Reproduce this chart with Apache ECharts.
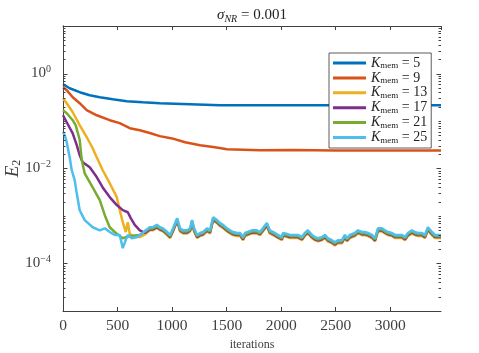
<!DOCTYPE html>
<html>
<head>
<meta charset="utf-8">
<script src="https://cdn.jsdelivr.net/npm/echarts@6/dist/echarts.min.js"></script>
<style>
  html, body { margin: 0; padding: 0; background: #fff; }
  #main { width: 479px; height: 353px; }
</style>
</head>
<body>
<div id="main"></div>
<script>
// memory sizes and MATLAB default line colours
var kMem = [5, 9, 13, 17, 21, 25];
var colors = ['#0072bd', '#d95319', '#edb120', '#7e2f8e', '#77ac30', '#4dbeee'];
var xTicks = [0, 500, 1000, 1500, 2000, 2500, 3000];

// [iteration, E2]
var k5 = [[0,0.593],[16,0.62],[61,0.49],[153,0.404],[245,0.349],[337,0.317],[456,0.288],[584,0.261],
  [731,0.249],[887,0.237],[1163,0.226],[1440,0.215],[1800,0.214],[2200,0.215],[2600,0.214],[3000,0.215],[3465,0.214]];
var k9 = [[0,0.515],[34,0.446],[89,0.317],[153,0.237],[217,0.169],[309,0.132],[428,0.104],[520,0.090],
  [612,0.0705],[704,0.064],[795,0.056],[887,0.048],[1000,0.043],[1119,0.0358],[1257,0.031],[1392,0.028],
  [1504,0.0255],[1805,0.0243],[2100,0.0245],[2500,0.024],[3000,0.024],[3465,0.0238]];
// early parts of the fast series, before they reach the noise floor
var k13 = [[0,0.30],[34,0.237],[89,0.153],[153,0.082],[217,0.046],[272,0.0267],[309,0.0173],[364,0.0092],
  [428,0.0049],[493,0.0025],[520,0.00133],[548,0.00074],[575,0.00046],[594,0.00074],[612,0.00042],
  [658,0.00036],[704,0.00036],[759,0.00042]];
var k17 = [[0,0.132],[34,0.094],[89,0.055],[126,0.031],[153,0.019],[181,0.0136],[245,0.0106],[309,0.0066],
  [364,0.0040],[428,0.0025],[493,0.0017],[548,0.00133],[594,0.0012],[621,0.0009],[658,0.00065],
  [704,0.0005],[750,0.00044]];
var k21 = [[0,0.168],[34,0.146],[89,0.104],[117,0.081],[153,0.040],[172,0.015],[199,0.0079],[272,0.0040],
  [337,0.00215],[383,0.00104],[428,0.00058],[474,0.00046],[520,0.00038],[548,0.00034],[612,0.00038],
  [704,0.0004]];
var k25 = [[0,0.058],[16,0.050],[34,0.036],[61,0.0173],[80,0.0092],[107,0.0057],[126,0.0030],[153,0.00132],
  [199,0.00082],[272,0.00058],[337,0.0005],[383,0.00055],[428,0.00046],[474,0.0004],[520,0.0004],
  [548,0.00021],[575,0.00031],[594,0.0004],[630,0.00034],[676,0.00036],[722,0.00042],[759,0.0005]];
// common noise floor (top curve, K=25) from ~800 iterations on
var tail = [[795,5.8e-4],[823,5.8e-4],[860,6.5e-4],[890,5.8e-4],[917,5.5e-4],[954,4.6e-4],[982,4.0e-4],
  [1009,5.5e-4],[1046,9.0e-4],[1073,5.5e-4],[1101,5.0e-4],[1138,5.0e-4],[1165,5.5e-4],[1183,8.2e-4],
  [1202,5.5e-4],[1229,4.0e-4],[1257,4.4e-4],[1284,4.6e-4],[1320,5.5e-4],[1348,5.0e-4],[1376,9.4e-4],
  [1412,8.2e-4],[1440,7.1e-4],[1467,6.5e-4],[1504,5.5e-4],[1531,5.0e-4],[1559,4.6e-4],[1596,4.4e-4],
  [1623,4.4e-4],[1651,3.6e-4],[1669,4.4e-4],[1731,5.0e-4],[1777,5.0e-4],[1805,4.6e-4],[1832,5.5e-4],
  [1869,7.1e-4],[1896,5.0e-4],[1942,4.4e-4],[1970,4.0e-4],[2007,3.6e-4],[2016,4.4e-4],[2053,4.2e-4],
  [2080,4.0e-4],[2126,4.0e-4],[2153,4.0e-4],[2190,3.6e-4],[2217,4.4e-4],[2245,5.0e-4],[2281,4.0e-4],
  [2309,3.6e-4],[2337,3.4e-4],[2373,3.6e-4],[2401,4.0e-4],[2428,3.4e-4],[2465,3.1e-4],[2492,2.8e-4],
  [2520,3.1e-4],[2557,3.1e-4],[2584,4.0e-4],[2603,3.4e-4],[2630,4.0e-4],[2676,4.4e-4],[2704,5.0e-4],
  [2740,4.6e-4],[2768,4.6e-4],[2795,4.4e-4],[2832,4.0e-4],[2860,3.4e-4],[2887,5.5e-4],[2924,5.5e-4],
  [2951,5.0e-4],[2979,4.6e-4],[3015,4.4e-4],[3043,4.0e-4],[3070,4.0e-4],[3107,4.0e-4],[3135,3.6e-4],
  [3162,4.4e-4],[3199,5.0e-4],[3226,4.6e-4],[3254,4.4e-4],[3290,4.4e-4],[3318,4.0e-4],[3345,5.8e-4],
  [3382,4.6e-4],[3410,4.0e-4],[3437,4.0e-4],[3465,4.0e-4]];
// how far below the top curve each one sits on the floor
var tailRatio = [1, 1, 0.86, 0.9, 0.94, 1];

var early = [k5, k9, k13, k17, k21, k25];

var font = 'Liberation Serif';
var axisColor = '#404040';
var chart = echarts.init(document.getElementById('main'));

var series = kMem.map(function (k, i) {
  var data = early[i];
  if (i >= 2) {
    data = data.concat(tail.map(function (p) { return [p[0], p[1] * tailRatio[i]]; }));
  }
  return {
    name: 'K = ' + k,
    type: 'line',
    data: data,
    showSymbol: false,
    lineStyle: { width: 2.5, color: colors[i] },
    itemStyle: { color: colors[i] },
    animation: false
  };
});

var supRich = {
  b: { fontFamily: font, fontSize: 15, color: axisColor },
  sup: { fontFamily: font, fontSize: 10, color: axisColor, padding: [0, 0, 9, 0] }
};

chart.setOption({
  backgroundColor: '#fff',
  animation: false,
  title: {
    text: '{i|σ}{s|NR}{n| = 0.001}',
    left: 247, top: 1, textAlign: 'center',
    textStyle: {
      rich: {
        i: { fontFamily: font, fontStyle: 'italic', fontWeight: 'normal', fontSize: 15, color: '#222' },
        s: { fontFamily: font, fontStyle: 'italic', fontWeight: 'normal', fontSize: 10, color: '#222', padding: [8, 0, 0, 0] },
        n: { fontFamily: font, fontWeight: 'normal', fontSize: 15, color: '#222' }
      }
    }
  },
  legend: {
    orient: 'vertical', left: 329, top: 53,
    padding: [3, 4, 3, 4], itemGap: 0.4, itemWidth: 33, itemHeight: 3,
    icon: 'rect',
    borderColor: '#333', borderWidth: 0.8, backgroundColor: '#fff',
    formatter: function (name) { return '{k|K}{s|mem}{t|' + name.slice(1) + '}'; },
    textStyle: {
      rich: {
        k: { fontFamily: font, fontStyle: 'italic', fontSize: 14, color: '#222', lineHeight: 14 },
        s: { fontFamily: font, fontSize: 9, color: '#222', padding: [6, 0, 0, 0] },
        t: { fontFamily: font, fontSize: 14, color: '#222', lineHeight: 14 }
      }
    },
    data: series.map(function (s) { return s.name; })
  },
  grid: { left: 63, right: 38, top: 26, bottom: 42, outerBoundsMode: 'none', containLabel: false },
  xAxis: [{
    type: 'value', min: 0, max: 3465, interval: 500,
    name: 'iterations', nameLocation: 'middle', nameGap: 27,
    nameTextStyle: { fontFamily: font, fontSize: 12, color: axisColor },
    axisLine: { lineStyle: { color: axisColor, width: 1 } },
    axisTick: { inside: true, length: 4, lineStyle: { color: axisColor } },
    axisLabel: {
      fontFamily: font, fontSize: 15.5, color: axisColor, margin: 7, showMaxLabel: false,
      formatter: function (v) { return xTicks.indexOf(v) >= 0 ? String(v) : ''; }
    },
    splitLine: { show: false }
  }, {
    type: 'value', position: 'top', min: 0, max: 3465, interval: 500,
    axisLine: { lineStyle: { color: axisColor, width: 1 } },
    axisTick: { inside: true, length: 4, lineStyle: { color: axisColor } },
    axisLabel: { show: false }, splitLine: { show: false }
  }],
  yAxis: [{
    type: 'log', logBase: 10, min: 1e-5, max: 10, interval: 1,
    name: '{e|E}{s|2}', nameLocation: 'middle', nameGap: 40, nameRotate: 90,
    nameMoveOverlap: false,
    nameTextStyle: {
      rich: {
        e: { fontFamily: font, fontStyle: 'italic', fontSize: 19, color: axisColor },
        s: { fontFamily: font, fontSize: 12, color: axisColor, padding: [9, 0, 0, 0] }
      }
    },
    axisLine: { lineStyle: { color: axisColor, width: 1 } },
    axisTick: { show: false },
    axisLabel: {
      margin: 12,
      formatter: function (v) {
        var e = Math.round(Math.log10(v));
        if (e % 2 !== 0 || e > 0 || e < -4) return '';
        return '{b|10}{sup|' + (e < 0 ? '\u2212' + (-e) : e) + '}';
      },
      rich: supRich
    },
    splitLine: { show: false }
  }, {
    type: 'log', logBase: 10, min: 1e-5, max: 10, interval: 1, position: 'right',
    axisLine: { lineStyle: { color: axisColor, width: 1 } },
    axisTick: { show: false }, axisLabel: { show: false }, splitLine: { show: false }
  }],
  series: series
});

// log ticks on left and right edges, placed through the y scale
var gridRect = chart.getModel().getComponent('grid').coordinateSystem.getRect();
var ticks = [];
for (var e = -5; e <= 1; e++) {
  for (var m = 1; m <= 9; m++) {
    var v = m * Math.pow(10, e);
    if (v > 10 || v < 1e-5) continue;
    var y = Math.round(chart.convertToPixel({ yAxisIndex: 0 }, v)) + 0.5;
    var len = (m === 1 && e % 2 === 0) ? 4.5 : 2.5;
    [gridRect.x, gridRect.x + gridRect.width].forEach(function (x0, j) {
      var dir = j === 0 ? 1 : -1;
      ticks.push({
        type: 'line', silent: true, z: 10,
        shape: { x1: x0, y1: y, x2: x0 + dir * len, y2: y },
        style: { stroke: axisColor, lineWidth: 1 }
      });
    });
  }
}
chart.setOption({ graphic: ticks });
</script>
</body>
</html>
